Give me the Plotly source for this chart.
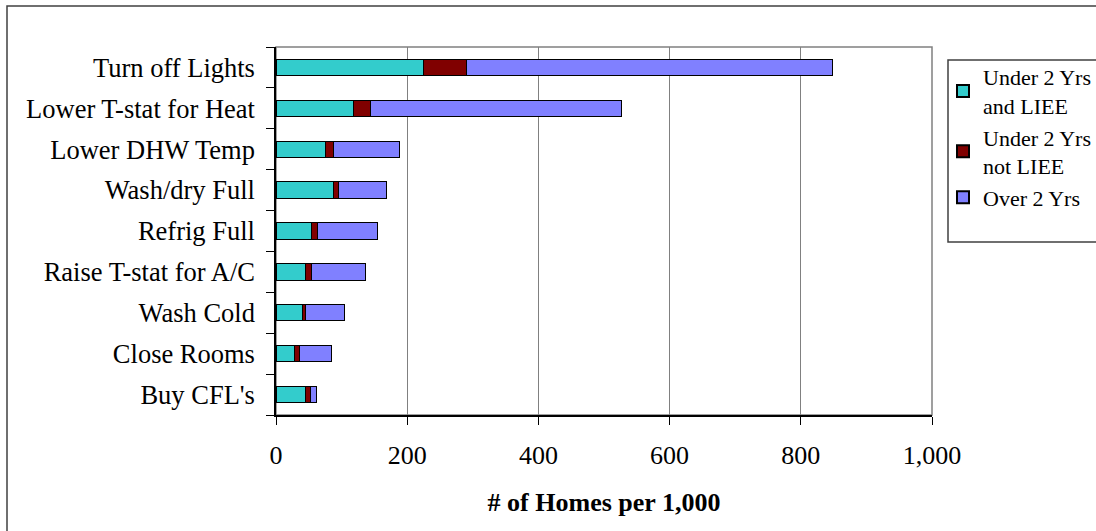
import plotly.graph_objects as go

categories = ["Turn off Lights", "Lower T-stat for Heat", "Lower DHW Temp", "Wash/dry Full",
              "Refrig Full", "Raise T-stat for A/C", "Wash Cold", "Close Rooms", "Buy CFL's"]
under2_liee = [225, 118, 75, 87, 54, 45, 40, 28, 45]
under2_not_liee = [65, 26, 12, 8, 10, 9, 5, 8, 7]
over2 = [558, 383, 101, 74, 90, 82, 59, 49, 9]

series_names = ["Under 2 Yrs<br>and LIEE", "Under 2 Yrs<br>not LIEE", "Over 2 Yrs"]
series_colors = ["#33CCCC", "#800000", "#8080FF"]
x_ticks = [0, 200, 400, 600, 800, 1000]
x_tick_labels = ["0", "200", "400", "600", "800", "1,000"]

FONT = "Liberation Serif, Times New Roman, serif"

fig = go.Figure()
for name, vals, col in zip(series_names, [under2_liee, under2_not_liee, over2], series_colors):
    fig.add_trace(go.Bar(
        y=categories, x=vals, name=name, orientation="h",
        marker=dict(color=col, line=dict(color="black", width=1)),
    ))

L, R, T, B = 276, 164, 47, 116
W, H = 1096, 531
pw, ph = W - L - R, H - T - B

def px2x(px):
    return (px - L) / pw

def py2y(py):
    return (H - B - py) / ph

fig.update_layout(
    width=W, height=H,
    margin=dict(l=L, r=R, t=T, b=B, autoexpand=False),
    barmode="stack", bargap=0.6,
    plot_bgcolor="white", paper_bgcolor="white",
    font=dict(family=FONT, size=26, color="black"),
    legend=dict(
        x=px2x(943), y=py2y(56), xanchor="left", yanchor="top",
        traceorder="normal", font=dict(family=FONT, size=22, color="black"),
        bgcolor="rgba(0,0,0,0)", borderwidth=0, itemsizing="constant",
        tracegroupgap=0,
    ),
    xaxis=dict(
        range=[0, 1000], tickvals=x_ticks, ticktext=x_tick_labels,
        showgrid=True, gridcolor="#808080", gridwidth=1,
        showline=True, linecolor="black", linewidth=1.5,
        ticks="outside", ticklen=8, tickcolor="black",
        tickfont=dict(family=FONT, size=26), ticklabelstandoff=8,
        title=dict(text="<b># of Homes per 1,000</b>", font=dict(family=FONT, size=26), standoff=24),
        zeroline=False,
    ),
    yaxis=dict(
        categoryorder="array", categoryarray=categories[::-1],
        showline=True, linecolor="black", linewidth=1.5,
        ticks="outside", ticklen=8, tickcolor="black", tickson="boundaries",
        tickfont=dict(family=FONT, size=26.5), ticklabelstandoff=14,
        showgrid=False,
    ),
    shapes=[
        dict(type="rect", xref="paper", yref="paper", x0=0, x1=1, y0=0, y1=1,
             line=dict(color="#808080", width=1.5), layer="below"),
        dict(type="rect", xref="paper", yref="paper", x0=px2x(7), x1=px2x(1120),
             y0=py2y(560), y1=py2y(6), line=dict(color="#404040", width=1.5)),
        dict(type="rect", xref="paper", yref="paper", x0=px2x(948), x1=px2x(1120),
             y0=py2y(242), y1=py2y(60), line=dict(color="#404040", width=1.5)),
    ],
)

fig.write_html("out.html")
